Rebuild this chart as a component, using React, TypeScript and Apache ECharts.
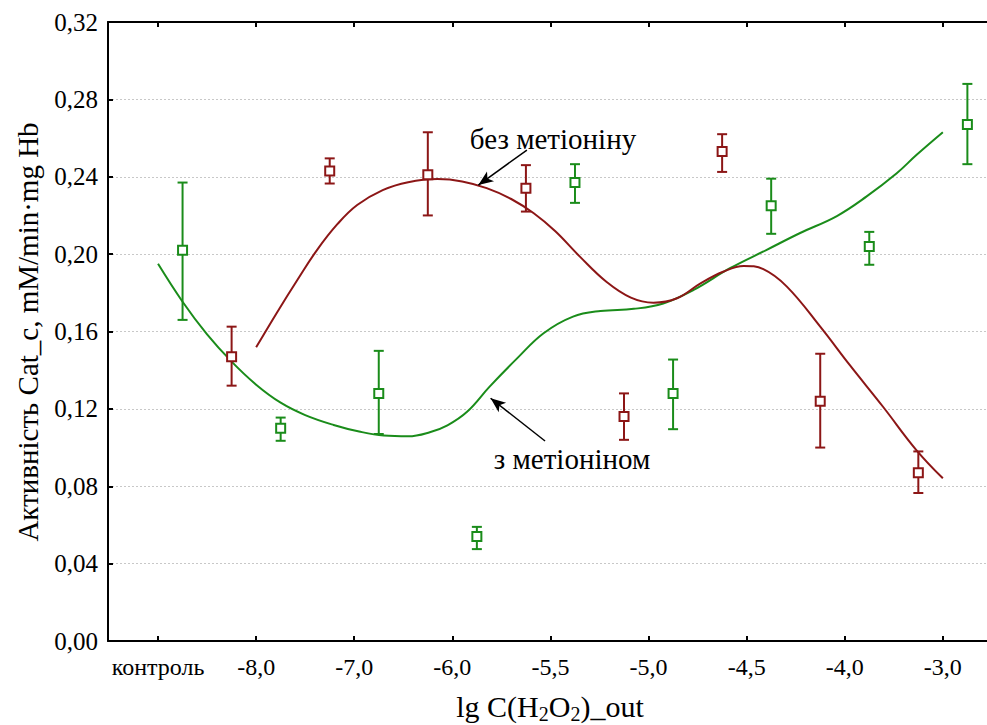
import React, { useEffect, useRef } from "react";
import * as echarts from "echarts";

// x positions: 0 = контроль, 1..8 = concentrations (equally spaced categories)
const xTickValues = [0, 1, 2, 3, 4, 5, 6, 7, 8];
const xTickLabels = ["контроль", "-8,0", "-7,0", "-6,0", "-5,5", "-5,0", "-4,5", "-4,0", "-3,0"];

// з метіоніном (green) — points placed at tick + 0.25
const greenX = [0.25, 1.25, 2.25, 3.25, 4.25, 5.25, 6.25, 7.25, 8.25];
const greenMean = [0.202, 0.110, 0.128, 0.054, 0.237, 0.128, 0.225, 0.204, 0.267];
const greenHigh = [0.237, 0.1155, 0.150, 0.059, 0.2465, 0.1455, 0.239, 0.2115, 0.288];
const greenLow = [0.166, 0.1035, 0.107, 0.0475, 0.2265, 0.1095, 0.2105, 0.1945, 0.2465];

// без метіоніну (red) — points placed at tick - 0.25
const redX = [0.75, 1.75, 2.75, 3.75, 4.75, 5.75, 6.75, 7.75];
const redMean = [0.147, 0.243, 0.241, 0.234, 0.116, 0.253, 0.124, 0.087];
const redHigh = [0.1625, 0.2495, 0.263, 0.246, 0.128, 0.262, 0.1485, 0.098];
const redLow = [0.132, 0.2365, 0.220, 0.222, 0.104, 0.2425, 0.100, 0.0765];

// fitted curves
const greenCurve = [
  [0.0, 0.195], [0.25, 0.1754], [0.5, 0.1585], [0.75, 0.1444], [1.0, 0.1325],
  [1.25, 0.1232], [1.5, 0.1168], [1.79, 0.1117], [2.05, 0.1083], [2.3, 0.1062],
  [2.55, 0.1058], [2.77, 0.1079], [2.95, 0.1115], [3.15, 0.1185], [3.38, 0.1315],
  [3.66, 0.1461], [3.93, 0.1591], [4.23, 0.1677], [4.51, 0.1706], [4.85, 0.1717],
  [5.15, 0.1745], [5.46, 0.1815], [5.83, 0.1927], [6.2, 0.2021], [6.54, 0.2108],
  [6.92, 0.2197], [7.22, 0.2297], [7.53, 0.2418], [7.73, 0.2512], [8.0, 0.263],
];
const redCurve = [
  [1.0, 0.1518], [1.21, 0.1696], [1.42, 0.1866], [1.62, 0.2021], [1.83, 0.2156],
  [2.03, 0.2254], [2.29, 0.2331], [2.55, 0.2372], [2.85, 0.2388], [3.1, 0.2376],
  [3.35, 0.2341], [3.6, 0.2285], [3.83, 0.2211], [4.05, 0.2118], [4.3, 0.1987],
  [4.57, 0.1857], [4.82, 0.1775], [5.05, 0.1749], [5.29, 0.1772], [5.53, 0.1849],
  [5.76, 0.1909], [5.97, 0.1939], [6.17, 0.1922], [6.41, 0.1832], [6.75, 0.1625],
  [7.05, 0.1427], [7.39, 0.1211], [7.73, 0.0987], [8.0, 0.0841],
];

// annotation arrows (data coords): [start, end]
const arrowRed = [[3.76, 0.2538], [3.265, 0.2357]];
const arrowGreen = [[3.945, 0.1034], [3.39, 0.1255]];

const GREEN = "#1a8c1a";
const RED = "#8c1616";
const FONT = "'Liberation Serif', 'Times New Roman', serif";

function errorSeries(xs: number[], lo: number[], hi: number[], color: string) {
  return {
    type: "custom",
    z: 3,
    silent: true,
    data: xs.map((x, i) => [x, lo[i], hi[i]]),
    encode: { x: 0, y: [1, 2] },
    renderItem: (params: any, api: any) => {
      const x = api.value(0);
      const pLo = api.coord([x, api.value(1)]);
      const pHi = api.coord([x, api.value(2)]);
      const w = 5;
      const style = { stroke: color, lineWidth: 2, fill: "none" };
      return {
        type: "group",
        children: [
          { type: "line", shape: { x1: pLo[0], y1: pLo[1], x2: pHi[0], y2: pHi[1] }, style },
          { type: "line", shape: { x1: pHi[0] - w, y1: pHi[1], x2: pHi[0] + w, y2: pHi[1] }, style },
          { type: "line", shape: { x1: pLo[0] - w, y1: pLo[1], x2: pLo[0] + w, y2: pLo[1] }, style },
        ],
      };
    },
  };
}

export default function App() {
  const ref = useRef<HTMLDivElement>(null);
  useEffect(() => {
    if (!ref.current) return;
    const chart = echarts.init(ref.current, null, { renderer: "svg" });
    const xCommon = {
      type: "value",
      min: -0.51,
      max: 8.45,
      splitLine: { show: false },
      axisLine: { show: true, onZero: false, lineStyle: { color: "#000", width: 2 } },
    };
    chart.setOption({
      animation: false,
      backgroundColor: "#fff",
      textStyle: { fontFamily: FONT },
      grid: { left: 108, top: 22, right: 0, bottom: 84 },
      xAxis: [
        {
          ...xCommon,
          position: "bottom",
          axisTick: { show: true, inside: true, length: 5, customValues: xTickValues, lineStyle: { color: "#000", width: 2 } },
          axisLabel: {
            show: true,
            customValues: xTickValues,
            margin: 14,
            color: "#000",
            fontFamily: FONT,
            fontSize: 24,
            formatter: (v: number) => {
              const i = Math.round(v);
              return xTickLabels[i] ?? "";
            },
          },
        },
        {
          ...xCommon,
          position: "top",
          axisTick: { show: true, inside: true, length: 5, customValues: xTickValues, lineStyle: { color: "#000", width: 2 } },
          axisLabel: { show: false },
        },
      ],
      yAxis: {
        type: "value",
        min: 0,
        max: 0.32,
        interval: 0.04,
        axisLine: { show: true, onZero: false, lineStyle: { color: "#000", width: 2 } },
        axisTick: { show: true, inside: true, length: 5, lineStyle: { color: "#000", width: 2 } },
        axisLabel: {
          color: "#000",
          fontFamily: FONT,
          fontSize: 25,
          margin: 10,
          formatter: (v: number) => v.toFixed(2).replace(".", ","),
        },
        splitLine: { show: true, lineStyle: { color: "#c8c8c8", type: [2, 2], width: 1 } },
      },
      series: [
        {
          type: "line",
          name: "з метіоніном",
          data: greenCurve,
          smooth: 0.4,
          symbol: "none",
          lineStyle: { color: GREEN, width: 2 },
          z: 2,
          silent: true,
        },
        {
          type: "line",
          name: "без метіоніну",
          data: redCurve,
          smooth: 0.4,
          symbol: "none",
          lineStyle: { color: RED, width: 2 },
          z: 2,
          silent: true,
        },
        errorSeries(greenX, greenLow, greenHigh, GREEN),
        errorSeries(redX, redLow, redHigh, RED),
        {
          type: "scatter",
          data: greenX.map((x, i) => [x, greenMean[i]]),
          symbol: "rect",
          symbolSize: 9,
          itemStyle: { color: "#fff", borderColor: GREEN, borderWidth: 2, opacity: 1 },
          z: 5,
          silent: true,
        },
        {
          type: "scatter",
          data: redX.map((x, i) => [x, redMean[i]]),
          symbol: "rect",
          symbolSize: 9,
          itemStyle: { color: "#fff", borderColor: RED, borderWidth: 2, opacity: 1 },
          z: 5,
          silent: true,
          markLine: {
            silent: true,
            symbol: ["none", "arrow"],
            symbolSize: [9, 15],
            lineStyle: { color: "#000", width: 1.5, type: "solid" },
            label: { show: false },
            data: [
              [{ coord: arrowRed[0] }, { coord: arrowRed[1] }],
              [{ coord: arrowGreen[0] }, { coord: arrowGreen[1] }],
            ],
          },
        },
      ],
      graphic: [
        {
          type: "text",
          x: 553,
          y: 139,
          style: {
            text: "без метіоніну",
            fontSize: 29,
            fontFamily: FONT,
            fill: "#000",
            textAlign: "center",
            textVerticalAlign: "middle",
          },
        },
        {
          type: "text",
          x: 572,
          y: 459,
          style: {
            text: "з метіоніном",
            fontSize: 29,
            fontFamily: FONT,
            fill: "#000",
            textAlign: "center",
            textVerticalAlign: "middle",
          },
        },
        {
          type: "text",
          x: 28,
          y: 332,
          rotation: Math.PI / 2,
          style: {
            text: "Активність Cat_c, mM/min·mg Hb",
            fontSize: 29,
            fontFamily: FONT,
            fill: "#000",
            textAlign: "center",
            textVerticalAlign: "middle",
          },
        },
        {
          type: "text",
          x: 550,
          y: 706,
          style: {
            text: "lg C(H{s|2}O{s|2})_out",
            fontSize: 30,
            fontFamily: FONT,
            fill: "#000",
            textAlign: "center",
            textVerticalAlign: "middle",
            rich: {
              s: { fontSize: 20, fontFamily: FONT, padding: [16, 0, 0, 0], verticalAlign: "top" },
            },
          },
        },
      ],
    });
    return () => chart.dispose();
  }, []);
  return (
    <div
      ref={ref}
      style={{ position: "absolute", left: 0, top: 0, width: 987, height: 725 }}
    />
  );
}
